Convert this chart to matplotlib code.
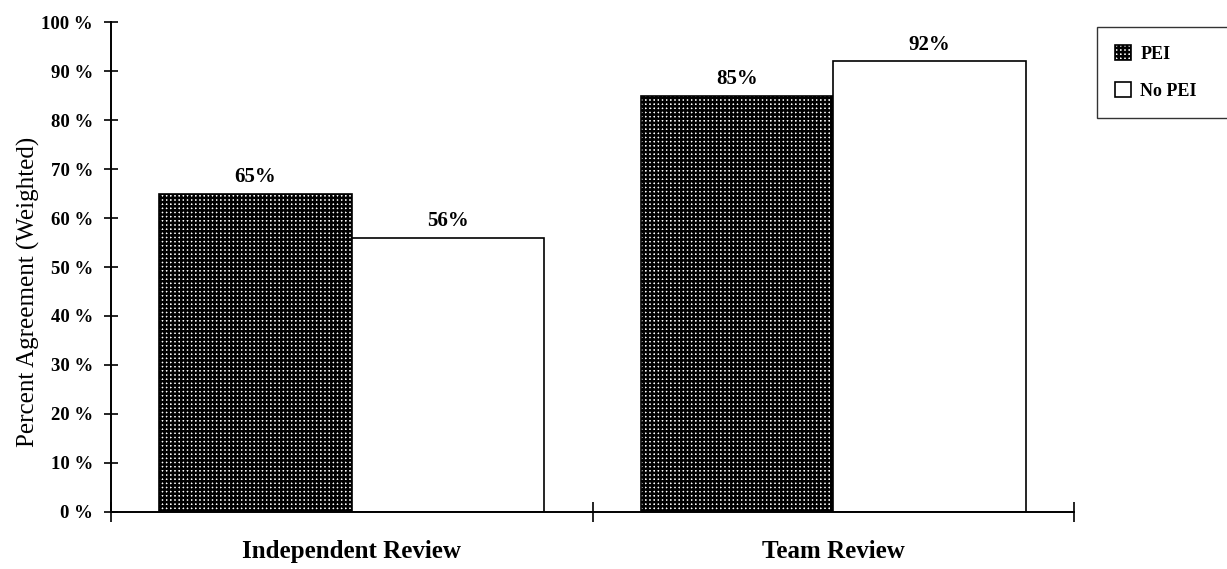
import numpy as np
import matplotlib.pyplot as plt

# Datos
categories = ['Independent Review', 'Team Review']
pei = [65, 85]
no_pei = [56, 92]
y_ticks = [0, 10, 20, 30, 40, 50, 60, 70, 80, 90, 100]

plt.rcParams['font.family'] = ['Liberation Serif', 'DejaVu Serif']
plt.rcParams['hatch.linewidth'] = 1.8

fig = plt.figure(figsize=(12.27, 5.69), dpi=100)
ax = fig.add_axes([0.0905, 0.1002, 0.7848, 0.8611])

x = np.arange(len(categories))
w = 0.4
b1 = ax.bar(x - w / 2, pei, w, facecolor='white', edgecolor='black',
            hatch='++++', linewidth=1.2, label='PEI')
b2 = ax.bar(x + w / 2, no_pei, w, facecolor='white', edgecolor='black',
            linewidth=1.2, label='No PEI')

# Etiquetas de valores
for bars, vals in [(b1, pei), (b2, no_pei)]:
    for rect, v in zip(bars, vals):
        ax.annotate(f'{v}%', (rect.get_x() + rect.get_width() / 2, v),
                    xytext=(0, 12), textcoords='offset points',
                    ha='center', va='center', fontsize=15, fontweight='bold')

ax.set_xlim(-0.5, 1.5)
ax.set_ylim(0, 100)
ax.set_yticks(y_ticks)
ax.set_yticklabels([f'{t} %' for t in y_ticks], fontsize=13.5, fontweight='bold')
ax.set_xticks([-0.5, 0.5, 1.5])
ax.set_xticklabels([])
ax.set_xticks(x, minor=True)
ax.set_xticklabels(categories, minor=True, fontsize=18, fontweight='bold')
ax.tick_params(axis='x', which='minor', length=0, pad=20)
ax.tick_params(axis='x', which='major', direction='inout', length=14, width=1.2)
ax.tick_params(axis='y', direction='inout', length=10, width=1.2, pad=8)
ax.spines['top'].set_visible(False)
ax.spines['right'].set_visible(False)
ax.spines['left'].set_linewidth(1.4)
ax.spines['bottom'].set_linewidth(1.4)
ax.set_ylabel('Percent Agreement (Weighted)', fontsize=18)
ax.yaxis.set_label_coords(-0.074, 0.45)

leg = fig.legend(loc='upper left', bbox_to_anchor=(0.894, 0.79, 0.13, 0.162),
                 mode='expand', bbox_transform=fig.transFigure, frameon=True,
                 fancybox=False, edgecolor='black',
                 prop={'weight': 'bold', 'size': 13},
                 handlelength=0.9, handleheight=0.9, labelspacing=1.05,
                 borderpad=1.0, handletextpad=0.5, borderaxespad=0)
leg.get_frame().set_linewidth(1.0)

plt.savefig('out.png', dpi=100)
